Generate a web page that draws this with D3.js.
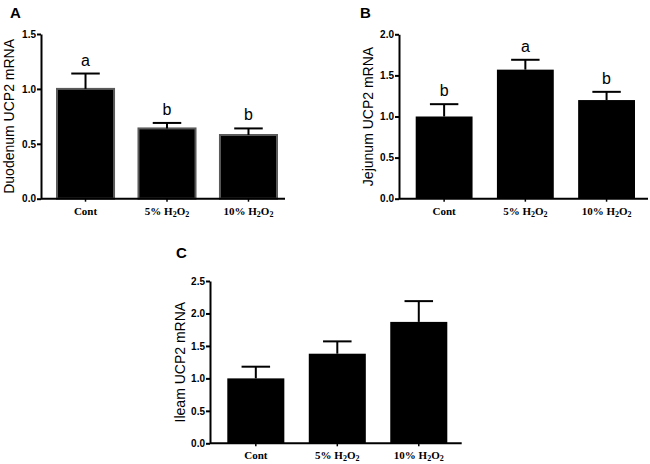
<!DOCTYPE html>
<html>
<head>
<meta charset="utf-8">
<script src="https://cdn.jsdelivr.net/npm/d3@7"></script>
<style>
  body { margin: 0; background: #fff; }
  svg { display: block; }
</style>
</head>
<body>
<div id="chart"></div>
<script>
// groups on x
const groups = ["Cont", "5% H2O2", "10% H2O2"];

// Duodenum
const duodenumMean = [1.0, 0.64, 0.58];
const duodenumErr = [0.14, 0.05, 0.06];
const duodenumLetters = ["a", "b", "b"];

// Jejunum
const jejunumMean = [1.0, 1.57, 1.20];
const jejunumErr = [0.15, 0.12, 0.10];
const jejunumLetters = ["b", "a", "b"];

// Ileam
const ileamMean = [1.0, 1.38, 1.87];
const ileamErr = [0.18, 0.19, 0.32];

const svg = d3.select("#chart").append("svg")
    .attr("width", 650)
    .attr("height", 464);

svg.append("rect").attr("width", 650).attr("height", 464).attr("fill", "#fff");

function drawPanel(opt) {
    const y = d3.scaleLinear()
        .domain([0, opt.ymax])
        .range([opt.yBottom, opt.yTop]);

    const x = d3.scaleBand()
        .domain(groups)
        .range([opt.barStart, opt.barEnd])
        .paddingInner(0.3)
        .paddingOuter(0);

    const g = svg.append("g");
    const data = groups.map((k, i) => ({
        key: k, mean: opt.mean[i], err: opt.err[i],
        letter: opt.letters ? opt.letters[i] : null
    }));

    // bars
    g.selectAll(".bar")
        .data(data)
        .enter().append("rect")
        .attr("class", "bar")
        .attr("x", d => x(d.key))
        .attr("width", x.bandwidth())
        .attr("y", d => y(d.mean))
        .attr("height", d => y(0) - y(d.mean))
        .attr("fill", "#000")
        .attr("stroke", opt.outline || "none")
        .attr("stroke-width", 2);

    // error bars (upper only)
    const bw = x.bandwidth();
    g.selectAll(".err")
        .data(data)
        .enter().append("line")
        .attr("x1", d => x(d.key) + bw / 2)
        .attr("x2", d => x(d.key) + bw / 2)
        .attr("y1", d => y(d.mean))
        .attr("y2", d => y(d.mean + d.err))
        .attr("stroke", "#000")
        .attr("stroke-width", 2);

    g.selectAll(".cap")
        .data(data)
        .enter().append("line")
        .attr("x1", d => x(d.key) + bw / 4)
        .attr("x2", d => x(d.key) + bw * 3 / 4)
        .attr("y1", d => y(d.mean + d.err))
        .attr("y2", d => y(d.mean + d.err))
        .attr("stroke", "#000")
        .attr("stroke-width", 2);

    // significance letters
    if (opt.letters) {
        g.selectAll(".letter")
            .data(data)
            .enter().append("text")
            .attr("x", d => x(d.key) + bw / 2)
            .attr("y", d => y(d.mean + d.err) - 8)
            .attr("text-anchor", "middle")
            .attr("font-family", "Liberation Sans, Arial, sans-serif")
            .attr("font-size", 16)
            .text(d => d.letter);
    }

    // y axis
    const yAxis = g.append("g")
        .attr("transform", `translate(${opt.axisX0},0)`)
        .call(d3.axisLeft(y)
            .tickValues(d3.range(0, opt.ymax + 0.001, 0.5))
            .tickFormat(d3.format(".1f"))
            .tickSize(4)
            .tickSizeOuter(0));
    yAxis.select(".domain").attr("stroke-width", 2);
    yAxis.selectAll(".tick line").attr("stroke-width", 2);
    yAxis.selectAll(".tick text")
        .attr("font-family", "Liberation Sans, Arial, sans-serif")
        .attr("font-weight", "bold")
        .attr("font-size", 10)
        .attr("x", -5)
        .attr("fill", "#000");

    // x axis
    const xAxis = g.append("g")
        .attr("transform", `translate(0,${opt.yBottom})`)
        .call(d3.axisBottom(x).tickSize(3).tickSizeOuter(0));
    xAxis.select(".domain").remove();
    xAxis.selectAll(".tick line").attr("stroke-width", 1.5);
    xAxis.append("line")
        .attr("x1", opt.axisX0)
        .attr("x2", opt.axisX1)
        .attr("stroke", "#000")
        .attr("stroke-width", 2);

    xAxis.selectAll(".tick text").each(function(d) {
        const t = d3.select(this)
            .text(null)
            .attr("y", 16)
            .attr("dy", null)
            .attr("font-family", "Liberation Serif, Times New Roman, serif")
            .attr("font-weight", "bold")
            .attr("font-size", 11)
            .attr("fill", "#000");
        const m = d.match(/^(\d+% )H2O2$/);
        if (!m) {
            t.text(d);
        } else {
            t.append("tspan").text(m[1] + "H");
            t.append("tspan").attr("font-size", 8).attr("dy", 2).text("2");
            t.append("tspan").attr("dy", -2).text("O");
            t.append("tspan").attr("font-size", 8).attr("dy", 2).text("2");
        }
    });

    // y title
    g.append("text")
        .attr("transform", `translate(${opt.titleX},${(opt.yTop + opt.yBottom) / 2}) rotate(-90)`)
        .attr("text-anchor", "middle")
        .attr("font-family", "Liberation Sans, Arial, sans-serif")
        .attr("font-size", 14)
        .attr("fill", "#000")
        .text(opt.title);

    // panel label
    g.append("text")
        .attr("x", opt.labelX)
        .attr("y", opt.labelY)
        .attr("font-family", "Liberation Sans, Arial, sans-serif")
        .attr("font-weight", "bold")
        .attr("font-size", 15)
        .attr("fill", "#000")
        .text(opt.label);
}

drawPanel({
    label: "A", labelX: 10, labelY: 18,
    title: "Duodenum UCP2 mRNA", titleX: 14,
    mean: duodenumMean, err: duodenumErr, letters: duodenumLetters,
    ymax: 1.5, yTop: 34, yBottom: 198.7,
    axisX0: 41, axisX1: 285, barStart: 57, barEnd: 277,
    outline: "#5a5a5a"
});

drawPanel({
    label: "B", labelX: 360, labelY: 18,
    title: "Jejunum UCP2 mRNA", titleX: 373,
    mean: jejunumMean, err: jejunumErr, letters: jejunumLetters,
    ymax: 2.0, yTop: 34.3, yBottom: 198.7,
    axisX0: 399, axisX1: 648, barStart: 415.7, barEnd: 635
});

drawPanel({
    label: "C", labelX: 176, labelY: 258,
    title: "Ileam UCP2 mRNA", titleX: 185,
    mean: ileamMean, err: ileamErr,
    ymax: 2.5, yTop: 281, yBottom: 443.3,
    axisX0: 210, axisX1: 461.7, barStart: 227.3, barEnd: 447.3
});
</script>
</body>
</html>
